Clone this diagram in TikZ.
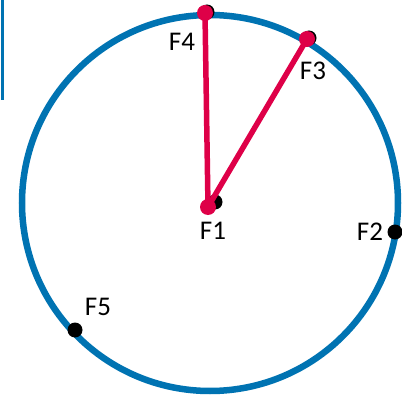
\documentclass[tikz,border=0pt]{standalone}
\usepackage{fontspec}
\setmainfont{Carlito}
\usetikzlibrary{positioning}
\definecolor{ringblue}{RGB}{0,115,178}
\definecolor{crimson}{RGB}{222,0,72}

\begin{document}
\begin{tikzpicture}[x=1pt,y=-1pt,
    dot/.style={circle,fill=black,inner sep=0pt,minimum size=15pt},
    reddot/.style={circle,fill=crimson,inner sep=0pt,minimum size=16pt},
    lbl/.style={font=\fontsize{27}{27}\selectfont,inner sep=0pt}]
  \useasboundingbox (0,0) rectangle (402,396);
  % bar at the top left
  \draw[ringblue,line width=3pt] (2,0) -- (2,100);
  % the ring
  \draw[ringblue,line width=6.5pt] (210,203) circle (188pt);
  % black points
  \node[dot] (f1) at (215,202) {};
  \node[dot] (f2) at (395,232) {};
  \node[dot] (f3) at (309,38) {};
  \node[dot] (f4) at (207,12) {};
  \node[dot] (f5) at (75,330) {};
  % red points and segments
  \node[reddot] (r1) at (208,207) {};
  \node[reddot] (r3) at (307,39) {};
  \node[reddot] (r4) at (205,13) {};
  \draw[crimson,line width=5.5pt] (r1.center) -- (r4.center);
  \draw[crimson,line width=5.5pt] (r1.center) -- (r3.center);
  % labels
  \node[lbl] (l1) at (213,231) {F1};
  \node[lbl] (l2) at (370,232) {F2};
  \node[lbl] (l3) at (313,71) {F3};
  \node[lbl] (l4) at (182,42) {F4};
  \node[lbl] (l5) at (98,307) {F5};
\end{tikzpicture}
\end{document}
